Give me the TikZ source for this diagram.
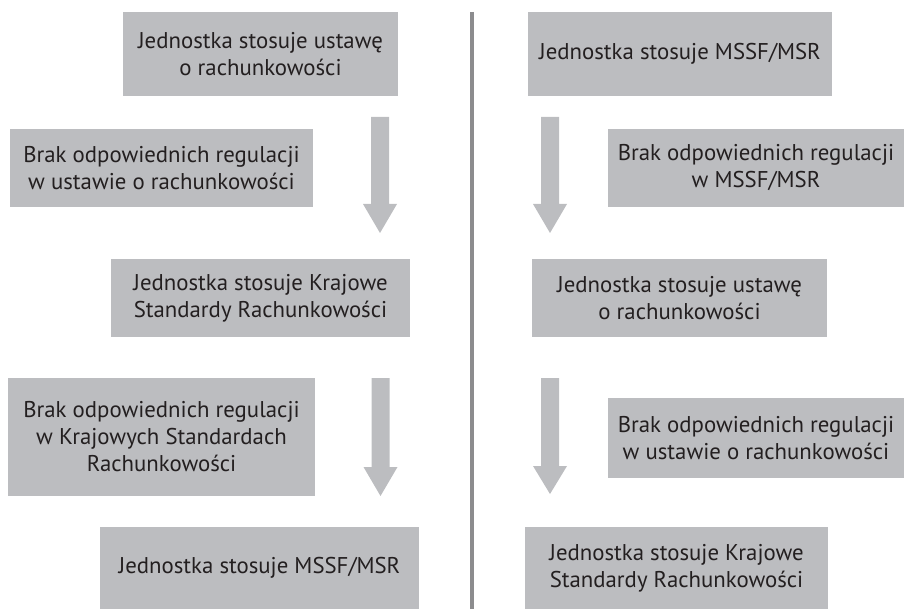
\documentclass[tikz,border=0pt]{standalone}
\usepackage{fontspec}
\setmainfont{PT Sans}
\definecolor{boxgray}{HTML}{BCBDC0}
\definecolor{txtcol}{HTML}{231F20}
\definecolor{divgray}{HTML}{8C8C8E}
\newcommand{\bigdownarrow}[4]{%
  \fill[boxgray] (#1-9,#2) -- (#1+9,#2) -- (#1+9,#3) -- (#1+17,#3) -- (#1,#4) -- (#1-17,#3) -- (#1-9,#3) -- cycle;}
\tikzset{
  stepbox/.style={fill=boxgray, draw=none, text=txtcol, align=center, inner sep=0pt,
    font=\fontsize{22.8}{27}\selectfont},
  divider/.style={draw=divgray, line width=4pt}
}
\begin{document}
\begin{tikzpicture}[x=1pt,y=-1pt]
\useasboundingbox (0,0) rectangle (904,609);
% left column
\node[stepbox, minimum width=275pt, minimum height=84pt] (L1) at (260.5,54) {Jednostka stosuje ustawę\\o rachunkowości};
\node[stepbox, minimum width=303pt, minimum height=78pt] (L2) at (161.5,168) {Brak odpowiednich regulacji\\w ustawie o rachunkowości};
\node[stepbox, minimum width=299pt, minimum height=78pt] (L3) at (260.5,298) {Jednostka stosuje Krajowe\\Standardy Rachunkowości};
\node[stepbox, minimum width=307pt, minimum height=118pt] (L4) at (161.5,437) {Brak odpowiednich regulacji\\w Krajowych Standardach\\Rachunkowości};
\node[stepbox, minimum width=319pt, minimum height=82pt] (L5) at (259.5,568) {Jednostka stosuje MSSF/MSR};
% right column
\node[stepbox, minimum width=304pt, minimum height=84pt] (R1) at (680,54) {Jednostka stosuje MSSF/MSR};
\node[stepbox, minimum width=296pt, minimum height=78pt] (R2) at (756,168) {Brak odpowiednich regulacji\\w MSSF/MSR};
\node[stepbox, minimum width=295pt, minimum height=78pt] (R3) at (679.5,298) {Jednostka stosuje ustawę\\o rachunkowości};
\node[stepbox, minimum width=296pt, minimum height=80pt] (R4) at (756,438) {Brak odpowiednich regulacji\\w ustawie o rachunkowości};
\node[stepbox, minimum width=303pt, minimum height=82pt] (R5) at (676.5,568) {Jednostka stosuje Krajowe\\Standardy Rachunkowości};
% block arrows
\bigdownarrow{380}{117}{204}{233}
\bigdownarrow{380.5}{378}{467}{496}
\bigdownarrow{550}{117}{204}{233}
\bigdownarrow{550}{378}{466}{494}
% divider
\coordinate (dtop) at (472,12);
\coordinate (dbot) at (472,609);
\draw[divider] (dtop) -- (dbot);
\end{tikzpicture}
\end{document}
